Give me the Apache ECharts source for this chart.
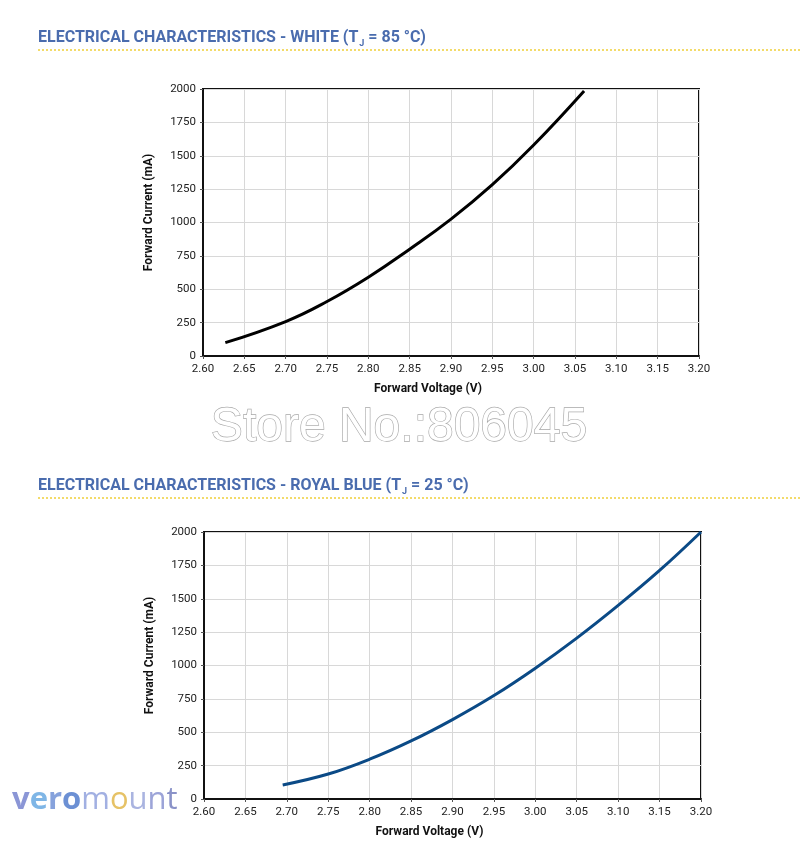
<!DOCTYPE html>
<html><head><meta charset="utf-8">
<script src="https://cdn.jsdelivr.net/npm/echarts@6/dist/echarts.min.js"></script>
<style>html,body{margin:0;padding:0;background:#fff}#c{width:800px;height:857px}</style>
</head><body><div id="c"></div>
<script>
const xTicks = [2.60,2.65,2.70,2.75,2.80,2.85,2.90,2.95,3.00,3.05,3.10,3.15,3.20];
const yTicks = [0,250,500,750,1000,1250,1500,1750,2000];
const whiteV = [2.627,2.70,2.75,2.80,2.85,2.90,2.95,3.00,3.061];
const whiteI = [100,258,408,590,800,1025,1283,1580,1985];
const blueV = [2.695,2.75,2.80,2.85,2.90,2.95,3.00,3.05,3.10,3.15,3.20];
const blueI = [105,187,298,435,595,775,980,1205,1450,1712,2000];

const chart = echarts.init(document.getElementById('c'));
const lab = {color:'#222', fontSize:11.5, fontFamily:'Roboto'};
function xAx(i){return {type:'value', gridIndex:i, min:xTicks[0], max:xTicks[xTicks.length-1], interval:0.05,
  name:'Forward Voltage (V)', nameLocation:'middle', nameGap:27,
  nameTextStyle:{fontWeight:'bold', fontSize:12, color:'#111', fontFamily:'Roboto', padding:[0,46,0,0]},
  axisLine:{show:true, onZero:false, lineStyle:{color:'#111', width:2}},
  axisTick:{show:true, length:3, lineStyle:{color:'#555'}},
  axisLabel:Object.assign({margin:7, formatter:v=>v.toFixed(2)}, lab),
  splitLine:{show:true, lineStyle:{color:'#d8d8d8', width:1}}};}
function yAx(i){return {type:'value', gridIndex:i, min:yTicks[0], max:yTicks[yTicks.length-1], interval:250,
  name:'Forward Current (mA)', nameLocation:'middle', nameGap:48,
  nameTextStyle:{fontWeight:'bold', fontSize:12, color:'#111', fontFamily:'Roboto', padding:[0,0,0,20]},
  axisLine:{show:true, onZero:false, lineStyle:{color:'#111', width:2}},
  axisTick:{show:true, length:3, lineStyle:{color:'#555'}},
  axisLabel:Object.assign({margin:7, formatter:v=>String(v)}, lab),
  splitLine:{show:true, lineStyle:{color:'#d8d8d8', width:1}}};}

const titleRich = {
  a:{fill:'#4a6cae', fontWeight:'bold', fontSize:16, fontFamily:'Roboto'},
  s:{fill:'#4a6cae', fontWeight:'bold', fontSize:9, fontFamily:'Roboto', verticalAlign:'bottom', padding:[12,0,0,1]}
};
chart.setOption({
  animation:false,
  grid:[{left:203, top:89, width:496, height:267, show:true, borderColor:'#111', borderWidth:2},
        {left:204, top:532, width:497, height:267, show:true, borderColor:'#111', borderWidth:2}],
  xAxis:[xAx(0), xAx(1)],
  yAxis:[yAx(0), yAx(1)],
  series:[
    {type:'line', xAxisIndex:0, yAxisIndex:0, smooth:0.45, showSymbol:false,
     lineStyle:{color:'#000', width:3}, data:whiteV.map((v,k)=>[v,whiteI[k]])},
    {type:'line', xAxisIndex:1, yAxisIndex:1, smooth:0.4, showSymbol:false,
     lineStyle:{color:'#0b4a86', width:3}, data:blueV.map((v,k)=>[v,blueI[k]])}
  ],
  graphic:[
    {type:'text', left:38, top:30, style:{text:'{a|ELECTRICAL CHARACTERISTICS - WHITE (T}{s|J}{a| = 85 °C)}', rich:titleRich}},
    {type:'line', shape:{x1:38,y1:50,x2:800,y2:50}, style:{stroke:'#f0cf3a', lineWidth:1.5, lineDash:[2,2]}},
    {type:'text', left:38, top:478, style:{text:'{a|ELECTRICAL CHARACTERISTICS - ROYAL BLUE (T}{s|J}{a| = 25 °C)}', rich:titleRich}},
    {type:'line', shape:{x1:38,y1:498,x2:800,y2:498}, style:{stroke:'#f0cf3a', lineWidth:1.5, lineDash:[2,2]}},
    {type:'text', x:399, y:428, style:{text:'Store No.:806045', font:'48px "Liberation Sans"', fill:'#fff', stroke:'#a8a8a8', lineWidth:1.3, align:'center', verticalAlign:'middle'}},
    {type:'text', left:12, top:785, style:{text:'{v|v}{e|e}{r|r}{o|o}{m|m}{o2|o}{u|u}{n|n}{t|t}',
      rich:{
        v:{font:'bold 31px "Open Sans"', fill:'#8b96d6'},
        e:{font:'bold 31px "Open Sans"', fill:'#7fb6e6'},
        r:{font:'bold 31px "Open Sans"', fill:'#86a2dc'},
        o:{font:'bold 31px "Open Sans"', fill:'#6c90d4'},
        m:{font:'31px "Open Sans"', fill:'#a2b0e2'},
        o2:{font:'31px "Open Sans"', fill:'#e6c266'},
        u:{font:'31px "Open Sans"', fill:'#aab4e0'},
        n:{font:'31px "Open Sans"', fill:'#9ca4d8'},
        t:{font:'31px "Open Sans"', fill:'#8a92c8'}
      }}}
  ]
});
</script></body></html>
